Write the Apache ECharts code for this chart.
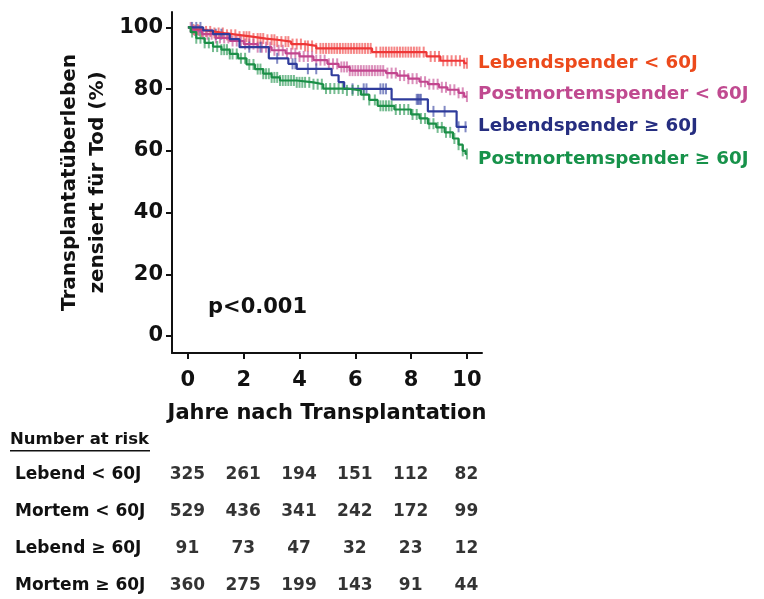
<!DOCTYPE html>
<html lang="de">
<head>
    <meta charset="UTF-8">
    <title>Transplantatüberleben</title>
    <style>
        html, body { margin: 0; padding: 0; background: #fff; }
    </style>
</head>
<body>
<div class="main" style="width: 764px;height: 599px;"></div>
<script src="https://cdn.jsdelivr.net/npm/echarts@6.0.0/dist/echarts.min.js"></script>
<script>
    // Kaplan-Meier Stufen [Jahre, Überleben %]
    var lebendJung = [[0,100],[0.2,99.3],[0.5,98.7],[0.9,98.2],[1.3,97.6],[1.8,97],[2.3,96.4],[2.8,96],[3.2,95.4],[3.7,94.6],[4.2,94],[4.6,93.2],[6.6,92],[8.55,90.6],[9.05,89.2],[9.9,88.4],[10,88.4]];
    var mortemJung = [[0,100],[0.2,99],[0.5,97.8],[1,96.6],[1.5,95.6],[2,94.6],[2.5,93.6],[3,92.6],[3.5,91.6],[4,90.6],[4.5,89.4],[5,88.2],[5.4,87.2],[5.8,86],[7.1,85.2],[7.5,84.4],[7.9,83.4],[8.3,82.4],[8.6,81.6],[9,80.6],[9.3,79.8],[9.7,78.8],[9.9,77.6],[10,77.6]];
    var lebendAlt = [[0,100],[0.55,99],[0.9,97.8],[1.5,96.2],[1.85,93.6],[2.9,90],[3.6,88.2],[3.9,86.6],[5.15,84.5],[5.4,82.3],[5.6,80.1],[7.3,76.7],[8.6,72.8],[9.63,67.8],[10,67.8]];
    var mortemAlt = [[0,100],[0.1,98.5],[0.3,96.5],[0.6,95],[0.9,93.8],[1.2,92.8],[1.5,91.4],[1.8,90],[2.1,88],[2.4,86.5],[2.7,85],[3,83.8],[3.3,82.8],[3.9,82.2],[4.5,81.6],[4.85,80.2],[5.7,79.6],[6.2,78.2],[6.5,76.5],[6.8,74.6],[7.4,73.4],[8,71.8],[8.3,70.5],[8.6,68.8],[8.9,67.6],[9.2,66],[9.5,64],[9.7,62],[9.85,60],[9.95,59],[10,59]];

    // zensierte Zeitpunkte (Jahre)
    var lebendJungZens = [0.2,0.35,0.5,0.65,0.8,0.95,1.1,1.25,1.4,1.55,1.7,1.85,2.0,2.1,2.2,2.35,2.5,2.6,2.7,2.85,3.0,3.1,3.2,3.35,3.5,3.6,3.75,3.9,4.05,4.2,4.3,4.45,4.6,4.75,4.85,4.95,5.05,5.15,5.25,5.35,5.45,5.55,5.65,5.75,5.85,5.95,6.05,6.15,6.25,6.35,6.45,6.55,6.75,6.9,7.0,7.1,7.2,7.3,7.4,7.5,7.6,7.7,7.8,7.9,8.0,8.1,8.2,8.3,8.45,8.7,8.85,9.0,9.15,9.3,9.45,9.6,9.75,9.9,10.0];
    var mortemJungZens = [0.1,0.25,0.4,0.55,0.7,0.85,1.0,1.15,1.3,1.45,1.6,1.75,1.9,2.05,2.2,2.35,2.5,2.65,2.8,2.95,3.1,3.25,3.4,3.55,3.7,3.85,4.0,4.15,4.3,4.45,4.6,4.75,4.9,5.05,5.2,5.35,5.5,5.6,5.7,5.8,5.9,6.0,6.1,6.2,6.3,6.4,6.5,6.6,6.7,6.8,6.9,7.0,7.15,7.3,7.45,7.6,7.75,7.9,8.05,8.2,8.35,8.5,8.65,8.8,8.95,9.1,9.25,9.4,9.55,9.7,9.85,10.0];
    var lebendAltZens = [0.15,0.3,0.45,1.0,1.2,2.2,2.6,3.2,3.75,3.85,4.3,4.6,5.9,6.3,6.4,6.9,7.0,7.1,8.2,8.25,8.3,8.35,8.8,9.2,9.7,9.95];
    var mortemAltZens = [0.15,0.3,0.45,0.6,0.75,0.9,1.05,1.2,1.3,1.4,1.5,1.6,1.75,1.9,2.05,2.2,2.35,2.5,2.6,2.7,2.8,2.9,3.0,3.1,3.2,3.3,3.4,3.5,3.6,3.7,3.8,3.9,4.0,4.1,4.2,4.35,4.5,4.65,4.8,4.95,5.1,5.25,5.4,5.55,5.7,5.9,6.1,6.3,6.5,6.7,6.9,7.0,7.1,7.2,7.3,7.45,7.6,7.75,7.9,8.05,8.2,8.35,8.5,8.65,8.8,8.95,9.1,9.25,9.4,9.55,9.7,9.85,10.0];

    var gruppen = ['Lebendspender < 60J', 'Postmortemspender < 60J', 'Lebendspender ≥ 60J', 'Postmortemspender ≥ 60J'];
    var xTicks = [0, 2, 4, 6, 8, 10];
    var yTicks = [0, 20, 40, 60, 80, 100];

    // Number at risk
    var riskRows = ['Lebend < 60J', 'Mortem < 60J', 'Lebend ≥ 60J', 'Mortem ≥ 60J'];
    var riskTimes = [0, 2, 4, 6, 8, 10];
    var riskLebendJung = [325, 261, 194, 151, 112, 82];
    var riskMortemJung = [529, 436, 341, 242, 172, 99];
    var riskLebendAlt = [91, 73, 47, 32, 23, 12];
    var riskMortemAlt = [360, 275, 199, 143, 91, 44];

    var FONT = '"DejaVu Sans", "Liberation Sans", Arial, sans-serif';
    var lineColors = ['#ee3636', '#c2458e', '#2f3c9c', '#1b8f47'];
    var textColors = ['#ec4a1c', '#c04a90', '#262e80', '#17924a'];

    var main = document.querySelector(".main");
    var chart = echarts.init(main);

    function stepAt(curve, t) {
        var s = curve[0][1];
        curve.forEach(function (p) { if (p[0] <= t) s = p[1]; });
        return s;
    }

    var curves = [lebendJung, mortemJung, lebendAlt, mortemAlt];
    var zens = [lebendJungZens, mortemJungZens, lebendAltZens, mortemAltZens];
    var risks = [riskLebendJung, riskMortemJung, riskLebendAlt, riskMortemAlt];

    var series = [];
    curves.forEach(function (c, i) {
        series.push({
            name: gruppen[i],
            type: 'line',
            step: 'end',
            showSymbol: false,
            data: c,
            lineStyle: {color: lineColors[i], width: 2.2},
            z: 3
        });
        series.push({
            name: gruppen[i] + ' zensiert',
            type: 'scatter',
            symbol: 'rect',
            symbolSize: [2, 11],
            itemStyle: {color: lineColors[i], opacity: 0.6},
            data: zens[i].map(function (t) { return [t, stepAt(c, t)]; }),
            z: 2
        });
    });

    var riskData = [];
    risks.forEach(function (row, r) {
        row.forEach(function (n, k) { riskData.push([riskTimes[k], riskRows[r], n]); });
    });
    series.push({
        type: 'scatter',
        xAxisIndex: 1,
        yAxisIndex: 1,
        symbolSize: 1,
        itemStyle: {color: 'transparent'},
        data: riskData,
        label: {
            show: true,
            position: [0, 0],
            align: 'center',
            verticalAlign: 'middle',
            formatter: function (p) { return p.value[2]; },
            fontFamily: FONT, fontWeight: 'bold', fontSize: 17, color: '#000',
            textBorderWidth: 0
        }
    });

    var option = {
        animation: false,
        grid: [
            {left: 172, right: 282, top: 12, bottom: 246},
            {left: 172, right: 282, top: 475, height: 111}
        ],
        xAxis: [{
            type: 'value', min: -0.57, max: 10.54,
            name: 'Jahre nach Transplantation',
            nameLocation: 'middle', nameGap: 50, nameMoveOverlap: false,
            nameTextStyle: {fontFamily: FONT, fontWeight: 'bold', fontSize: 21, color: '#111'},
            splitLine: {show: false},
            axisLine: {onZero: false, lineStyle: {color: '#111', width: 2}},
            axisTick: {show: true, length: 6, customValues: xTicks, lineStyle: {color: '#111', width: 2}},
            axisLabel: {customValues: xTicks, margin: 17, fontFamily: FONT, fontWeight: 'bold', fontSize: 21, color: '#111'}
        }, {
            type: 'value', gridIndex: 1, min: -0.57, max: 10.54, show: false
        }],
        yAxis: [{
            type: 'value', min: -5.5, max: 105,
            name: 'Transplantatüberleben\nzensiert für Tod (%)',
            nameLocation: 'middle', nameGap: 60, nameMoveOverlap: false,
            nameTextStyle: {fontFamily: FONT, fontWeight: 'bold', fontSize: 20, color: '#111', lineHeight: 28},
            splitLine: {show: false},
            axisLine: {show: true, onZero: false, lineStyle: {color: '#111', width: 2}},
            axisTick: {show: true, length: 6, customValues: yTicks, lineStyle: {color: '#111', width: 2}},
            axisLabel: {customValues: yTicks, margin: 9, fontFamily: FONT, fontWeight: 'bold', fontSize: 21, color: '#111'}
        }, {
            type: 'category', gridIndex: 1, inverse: true, boundaryGap: false, data: riskRows,
            axisLine: {show: false}, axisTick: {show: false}, splitLine: {show: false},
            axisLabel: {align: 'left', margin: 157, fontFamily: FONT, fontWeight: 'bold', fontSize: 17, color: '#111'}
        }],
        graphic: [
            {type: 'text', left: 208, top: 297, style: {text: 'p<0.001', font: 'bold 21px ' + FONT, fill: '#111'}},
            {type: 'text', left: 10, top: 431, style: {text: 'Number at risk', font: 'bold 16.5px ' + FONT, fill: '#111'}},
            {type: 'rect', shape: {x: 10, y: 450, width: 140, height: 1.5}, style: {fill: '#111'}}
        ].concat(gruppen.map(function (g, i) {
            return {type: 'text', left: 478, top: [54, 85, 117, 150][i],
                style: {text: g, font: 'bold 18.3px ' + FONT, fill: textColors[i]}};
        })),
        series: series
    };
    chart.setOption(option);
</script>
</body>
</html>
